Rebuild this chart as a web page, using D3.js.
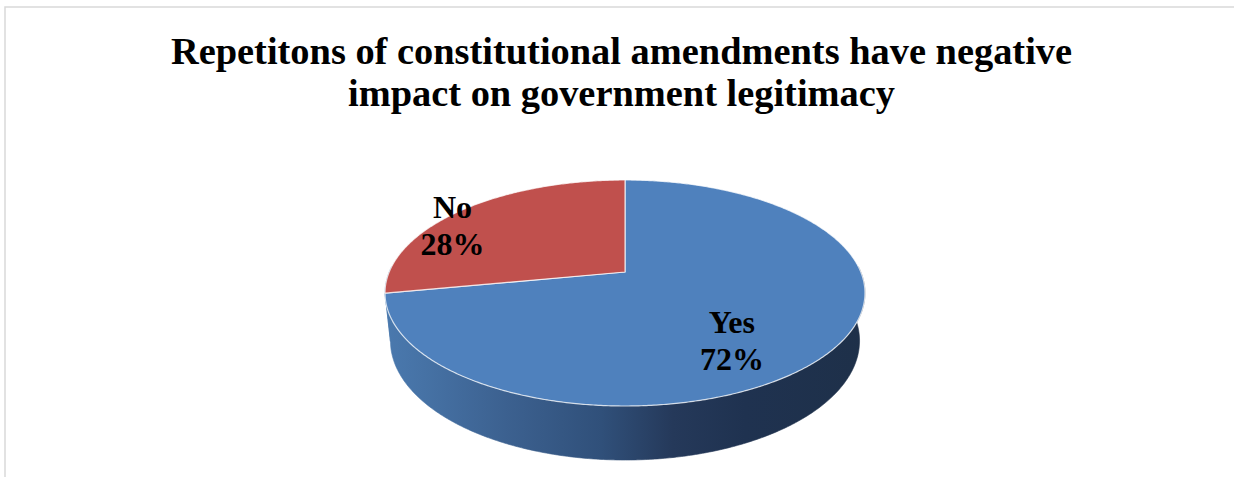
<!DOCTYPE html>
<html>
<head>
<meta charset="utf-8">
<script src="https://cdn.jsdelivr.net/npm/d3@7/dist/d3.min.js"></script>
<style>
  html, body { margin: 0; padding: 0; background: #ffffff; }
  svg { display: block; }
</style>
</head>
<body>
<script>
// Survey answers
const categories = ["Yes", "No"];
const values = [72, 28];
const percentLabels = ["72%", "28%"];
const titleLines = [
  "Repetitons of constitutional amendments have negative",
  "impact on government legitimacy"
];

const W = 1234, H = 477;
const topColors = ["#4f81bd", "#c0504d"];

const svg = d3.select("body").append("svg")
  .attr("width", W).attr("height", H);

// chart frame
svg.append("rect")
  .attr("x", 5).attr("y", 7)
  .attr("width", W + 10).attr("height", H + 10)
  .attr("fill", "#ffffff")
  .attr("stroke", "#d9d9d9").attr("stroke-width", 1.5);

// title
const title = svg.append("text")
  .attr("text-anchor", "middle")
  .attr("font-family", "'Liberation Serif', 'Times New Roman', serif")
  .attr("font-weight", "bold")
  .attr("font-size", 38.4)
  .attr("fill", "#000");
titleLines.forEach((t, i) => {
  title.append("tspan").attr("x", 621.5).attr("y", 64 + i * 41.5).text(t);
});

// ---- 3D pie with perspective ----
// the disc lies in a horizontal plane seen from above at angle phi
const cx = 625, cy = 272;          // projected centre of the top face
const a = 235.8;                   // projected radius scale
const phi = Math.asin(0.4627);     // elevation of the viewer
const rho = 0.2096;                // radius / viewing distance (perspective)
const thick = 0.2305;              // height of the disc / radius

function project(theta, r, v) {
  const u = r * Math.sin(theta);
  const w = r * Math.cos(theta);
  const den = 1 + rho * (w * Math.cos(phi) - v * Math.sin(phi));
  return [cx + a * u / den, cy - a * (v * Math.cos(phi) + w * Math.sin(phi)) / den];
}

function arcPoints(a0, a1, v) {
  const n = Math.max(2, Math.ceil(Math.abs(a1 - a0) / (Math.PI / 360)));
  const pts = [];
  for (let i = 0; i <= n; i++) pts.push(project(a0 + (a1 - a0) * i / n, 1, v));
  return pts;
}

const pie = d3.pie().sort(null).value(d => d)(values);
const line = d3.line().curve(d3.curveLinear);

// gradient for the outer wall, lit from the left
const defs = svg.append("defs");
const grad = defs.append("linearGradient")
  .attr("id", "wallGrad")
  .attr("gradientUnits", "userSpaceOnUse")
  .attr("x1", 385).attr("y1", 0).attr("x2", 865).attr("y2", 0);
[[0, "#4a79ae"], [0.08, "#4672a5"], [0.25, "#3c6190"], [0.45, "#30507a"],
 [0.6, "#25395a"], [0.75, "#1f3250"], [1, "#1e3049"]].forEach(([o, c]) => {
  grad.append("stop").attr("offset", o).attr("stop-color", c);
});

// outer wall: only the front half can be seen
const frontA = Math.PI / 2 - 0.05, frontB = 3 * Math.PI / 2 + 0.05;
const wallG = svg.append("g");
pie.forEach(s => {
  const a0 = Math.max(s.startAngle, frontA);
  const a1 = Math.min(s.endAngle, frontB);
  if (a1 <= a0) return;
  const topEdge = arcPoints(a0, a1, 0);
  const botEdge = arcPoints(a1, a0, -thick);
  wallG.append("path")
    .attr("d", line(topEdge.concat(botEdge)) + "Z")
    .attr("fill", "url(#wallGrad)")
    .attr("stroke", "url(#wallGrad)")
    .attr("stroke-width", 0.6);
});

// top faces
const topG = svg.append("g");
pie.forEach((s, i) => {
  const pts = [project(0, 0, 0)].concat(arcPoints(s.startAngle, s.endAngle, 0));
  topG.append("path")
    .attr("d", line(pts) + "Z")
    .attr("fill", topColors[i])
    .attr("stroke", "#ffffff")
    .attr("stroke-opacity", 0.75)
    .attr("stroke-width", 1.2)
    .attr("stroke-linejoin", "round");
});

// data labels: category and percentage
const labelPlace = [
  { r: 0.55, dy: 28 },
  { r: 1.07, dy: 20 }
];
const labelG = svg.append("g")
  .attr("font-family", "'Liberation Serif', 'Times New Roman', serif")
  .attr("font-weight", "bold")
  .attr("font-size", 32)
  .attr("text-anchor", "middle")
  .attr("fill", "#000");
pie.forEach((s, i) => {
  const mid = (s.startAngle + s.endAngle) / 2;
  const [px, py] = project(mid, labelPlace[i].r, 0);
  const yc = py + labelPlace[i].dy;
  const t = labelG.append("text");
  t.append("tspan").attr("x", px).attr("y", yc - 8).text(categories[i]);
  t.append("tspan").attr("x", px).attr("y", yc + 29).text(percentLabels[i]);
});
</script>
</body>
</html>
